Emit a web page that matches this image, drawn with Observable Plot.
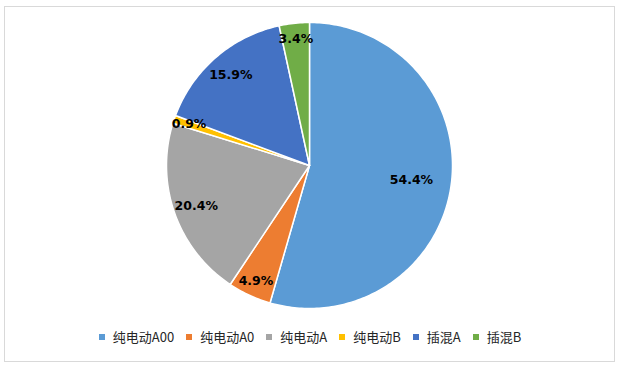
<!DOCTYPE html>
<html>
<head>
<meta charset="utf-8">
<script src="https://cdn.jsdelivr.net/npm/d3@7"></script>
<script src="https://cdn.jsdelivr.net/npm/@observablehq/plot@0.6"></script>
<style>
  html, body { margin: 0; padding: 0; background: #fff; }
  #page { position: relative; width: 620px; height: 367px; overflow: hidden; }
  #frame { position: absolute; left: 4px; top: 6px; width: 611px; height: 356px; box-sizing: border-box; border: 1px solid #d9d9d9; }
  #chart { position: absolute; left: 0; top: 0; }
  #legend { position: absolute; left: 0; top: 329px; width: 620px; display: flex; justify-content: center; gap: 12px;
            font-family: "Noto Sans CJK SC", sans-serif; font-size: 13px; color: #262626; line-height: 16px; }
  .item { display: flex; align-items: center; }
  .sw { width: 6px; height: 6px; margin-right: 8px; }
</style>
</head>
<body>
<div id="page">
  <div id="frame"></div>
  <div id="chart"></div>
  <div id="legend"></div>
</div>
<script>
const categories = ["纯电动A00", "纯电动A0", "纯电动A", "纯电动B", "插混A", "插混B"];
const shares = [54.4, 4.9, 20.4, 0.9, 15.9, 3.4];
const labels = ["54.4%", "4.9%", "20.4%", "0.9%", "15.9%", "3.4%"];
const colors = ["#5B9BD5", "#ED7D31", "#A5A5A5", "#FFC000", "#4472C4", "#70AD47"];

const rows = categories.map((c, i) => ({name: c, share: shares[i], label: labels[i]}));
const arcs = d3.pie().sort(null).value(d => d.share)(rows);

// slice polygons in unit-circle coordinates (angle clockwise from 12 o'clock)
const poly = [];
for (const a of arcs) {
  poly.push({name: a.data.name, x: 0, y: 0});
  const n = Math.max(2, Math.ceil((a.endAngle - a.startAngle) / (Math.PI / 180)));
  for (let k = 0; k <= n; k++) {
    const t = a.startAngle + (a.endAngle - a.startAngle) * k / n;
    poly.push({name: a.data.name, x: Math.sin(t), y: Math.cos(t)});
  }
}
const labelPts = arcs.map(a => {
  const m = (a.startAngle + a.endAngle) / 2;
  const s = a.data.share;
  const f = s > 50 ? 0.72 : (s < 5 ? 0.89 : 0.84);
  return {label: a.data.label, x: f * Math.sin(m), y: f * Math.cos(m)};
});

const W = 620, H = 320, cx = 309, cy = 165, R = 143;
const chart = Plot.plot({
  width: W, height: H,
  margin: 0,
  x: {domain: [-cx / R, (W - cx) / R], axis: null},
  y: {domain: [-(H - cy) / R, cy / R], axis: null},
  color: {domain: categories, range: colors},
  style: {background: "transparent"},
  marks: [
    Plot.line(poly, {x: "x", y: "y", z: "name", fill: "name", stroke: "white", strokeWidth: 1.5, curve: "linear-closed"}),
    Plot.text(labelPts, {x: "x", y: "y", text: "label", fill: "#000", fontSize: 12.5, fontWeight: "bold",
      fontFamily: "DejaVu Sans, sans-serif"})
  ]
});
document.getElementById("chart").appendChild(chart);

const legend = document.getElementById("legend");
categories.forEach((c, i) => {
  const it = document.createElement("div");
  it.className = "item";
  const sw = document.createElement("span");
  sw.className = "sw";
  sw.style.background = colors[i];
  const tx = document.createElement("span");
  tx.textContent = c;
  it.appendChild(sw); it.appendChild(tx);
  legend.appendChild(it);
});
</script>
</body>
</html>
